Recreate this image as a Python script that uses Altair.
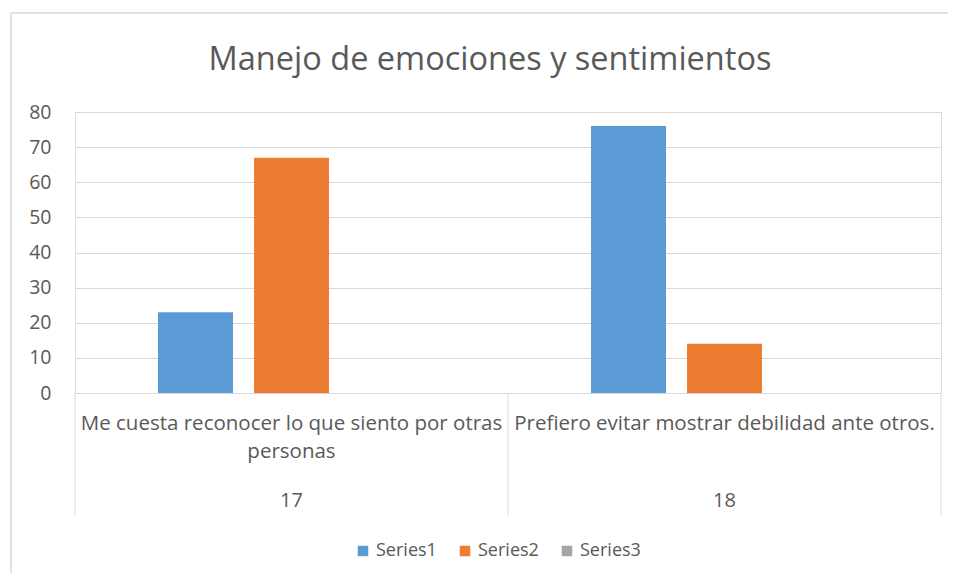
import altair as alt
import pandas as pd

title_text = "Manejo de emociones y sentimientos"
categories = ["Me cuesta reconocer lo que siento por otras personas",
              "Prefiero evitar mostrar debilidad ante otros."]
category_labels = ["Me cuesta reconocer lo que siento por otras|personas",
                   "Prefiero evitar mostrar debilidad ante otros."]
group_numbers = ["17", "18"]
series_names = ["Series1", "Series2", "Series3"]
series1 = [23, 76]
series2 = [67, 14]
series3 = [0, 0]
colors = ["#5b9bd5", "#ed7d31", "#a5a5a5"]

FONT = "Open Sans"
GREY = "#595959"
W, H = 866, 281

rows = []
for i, c in enumerate(categories):
    for s, vals in zip(series_names, [series1, series2, series3]):
        rows.append({"cat": c, "series": s, "value": vals[i]})
df = pd.DataFrame(rows)
lab = pd.DataFrame({"cat": categories, "label": category_labels, "num": group_numbers})

xscale = alt.Scale(domain=categories, paddingInner=0, paddingOuter=0)

bars = alt.Chart(df).mark_bar().encode(
    x=alt.X("cat:N", scale=xscale, sort=categories, title=None,
            axis=alt.Axis(labels=False, ticks=False, domain=True, domainColor="#d9d9d9",
                          domainWidth=1, grid=False)),
    xOffset=alt.XOffset("series:N", sort=series_names,
                        scale=alt.Scale(paddingInner=0.21875, paddingOuter=0.8646)),
    y=alt.Y("value:Q", scale=alt.Scale(domain=[0, 80]), title=None,
            axis=alt.Axis(values=list(range(0, 81, 10)), domain=False, ticks=False,
                          gridColor="#d9d9d9", gridWidth=1, labelColor=GREY,
                          labelFont=FONT, labelFontSize=19.5, labelPadding=24)),
    color=alt.Color("series:N", sort=series_names,
                    scale=alt.Scale(domain=series_names, range=colors),
                    legend=alt.Legend(title=None, orient="none", direction="horizontal",
                                      legendX=279, legendY=430, symbolType="square",
                                      symbolSize=110, symbolStrokeWidth=0,
                                      labelFont=FONT, labelFontSize=18, labelColor=GREY,
                                      labelOffset=4, columnPadding=19, padding=0)),
)

sep_left = alt.Chart(lab).mark_rule(color="#d9d9d9", strokeWidth=1).encode(
    x=alt.X("cat:N", scale=xscale, sort=categories, bandPosition=0),
    y=alt.value(H), y2=alt.value(H + 122),
)
sep_right = alt.Chart(lab.tail(1)).mark_rule(color="#d9d9d9", strokeWidth=1).encode(
    x=alt.X("cat:N", scale=xscale, sort=categories, bandPosition=1),
    y=alt.value(H), y2=alt.value(H + 122),
)

cat_text = alt.Chart(lab).mark_text(font=FONT, fontSize=20.5, color=GREY, lineBreak="|",
                                    baseline="middle", lineHeight=28).encode(
    x=alt.X("cat:N", scale=xscale, sort=categories),
    y=alt.value(H + 31),
    text="label:N",
)
num_text = alt.Chart(lab).mark_text(font=FONT, fontSize=20, color=GREY,
                                    baseline="middle").encode(
    x=alt.X("cat:N", scale=xscale, sort=categories),
    y=alt.value(H + 108),
    text="num:N",
)

title = alt.Chart(pd.DataFrame({"t": [title_text]})).mark_text(
    font=FONT, fontSize=32.5, color=GREY, baseline="alphabetic", align="center"
).encode(x=alt.value(415), y=alt.value(-42), text="t:N")

frame = pd.DataFrame({"a": [0]})
border_top = alt.Chart(frame).mark_rule(color="#d9d9d9", strokeWidth=1.5).encode(
    x=alt.value(-64), x2=alt.value(W + 100), y=alt.value(-99))
border_left = alt.Chart(frame).mark_rule(color="#d9d9d9", strokeWidth=1.5).encode(
    x=alt.value(-64), y=alt.value(-99), y2=alt.value(H + 200))

chart = alt.layer(border_top, border_left, bars, sep_left, sep_right, cat_text, num_text,
                  title).properties(
    width=W, height=H,
    padding={"left": 67, "top": 104, "right": 7, "bottom": 180},
    autosize=alt.AutoSizeParams(type="none"),
).configure_view(stroke=None).configure(background="white")

chart.save("out.html", embed_options={"renderer": "svg", "actions": False})
